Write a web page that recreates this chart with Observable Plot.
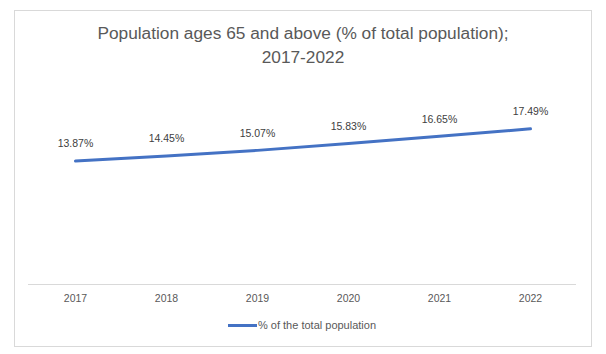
<!DOCTYPE html>
<html>
<head>
<meta charset="utf-8">
<script src="https://cdn.jsdelivr.net/npm/d3@7"></script>
<script src="https://cdn.jsdelivr.net/npm/@observablehq/plot@0.6"></script>
<style>
  html, body { margin: 0; padding: 0; background: #fff; }
  #wrap { position: relative; width: 606px; height: 354px; overflow: hidden; font-family: "Liberation Sans", Arial, sans-serif; }
  #frame { position: absolute; left: 14px; top: 10px; width: 576px; height: 335px; border: 1px solid #d9d9d9; box-sizing: content-box; }
  #title { position: absolute; left: 14px; width: 578px; top: 21px; text-align: center; color: #595959; font-size: 17.3px; line-height: 24px; }
  #chart { position: absolute; left: 0; top: 0; }
  #legend { position: absolute; top: 318px; left: 228px; height: 14px; display: flex; align-items: center; font-size: 11px; color: #595959; }
  #legend .sw { width: 29px; height: 3px; background: #4472c4; margin-right: 1px; }
</style>
</head>
<body>
<div id="wrap">
  <div id="frame"></div>
  <div id="title">Population ages 65 and above (% of total population);<br>2017-2022</div>
  <div id="chart"></div>
  <div id="legend"><span class="sw"></span><span id="legtext"></span></div>
</div>
<script>
const years = ["2017", "2018", "2019", "2020", "2021", "2022"];
const values = [13.87, 14.45, 15.07, 15.83, 16.65, 17.49];
const seriesName = "% of the total population";

const data = years.map((y, i) => ({year: y, value: values[i]}));

document.getElementById("legtext").textContent = seriesName;

const chart = Plot.plot({
  width: 606,
  height: 354,
  marginLeft: 28,
  marginRight: 30,
  marginTop: 106,
  marginBottom: 70,
  style: {background: "transparent", fontFamily: "'Liberation Sans', Arial, sans-serif"},
  x: {type: "point", domain: years, padding: 0.5, label: null},
  y: {domain: [0, 20], axis: null},
  marks: [
    Plot.ruleY([0], {stroke: "#d9d9d9", strokeWidth: 1}),
    Plot.axisX({tickSize: 0, tickPadding: 10, fontSize: 10.5, color: "#595959", label: null}),
    Plot.line(data, {x: "year", y: "value", stroke: "#4472c4", strokeWidth: 3, strokeLinecap: "round"}),
    Plot.text(data, {x: "year", y: "value", text: d => d.value.toFixed(2) + "%", dy: -17, fill: "#404040", fontSize: 10.5})
  ]
});
document.getElementById("chart").appendChild(chart);
</script>
</body>
</html>
